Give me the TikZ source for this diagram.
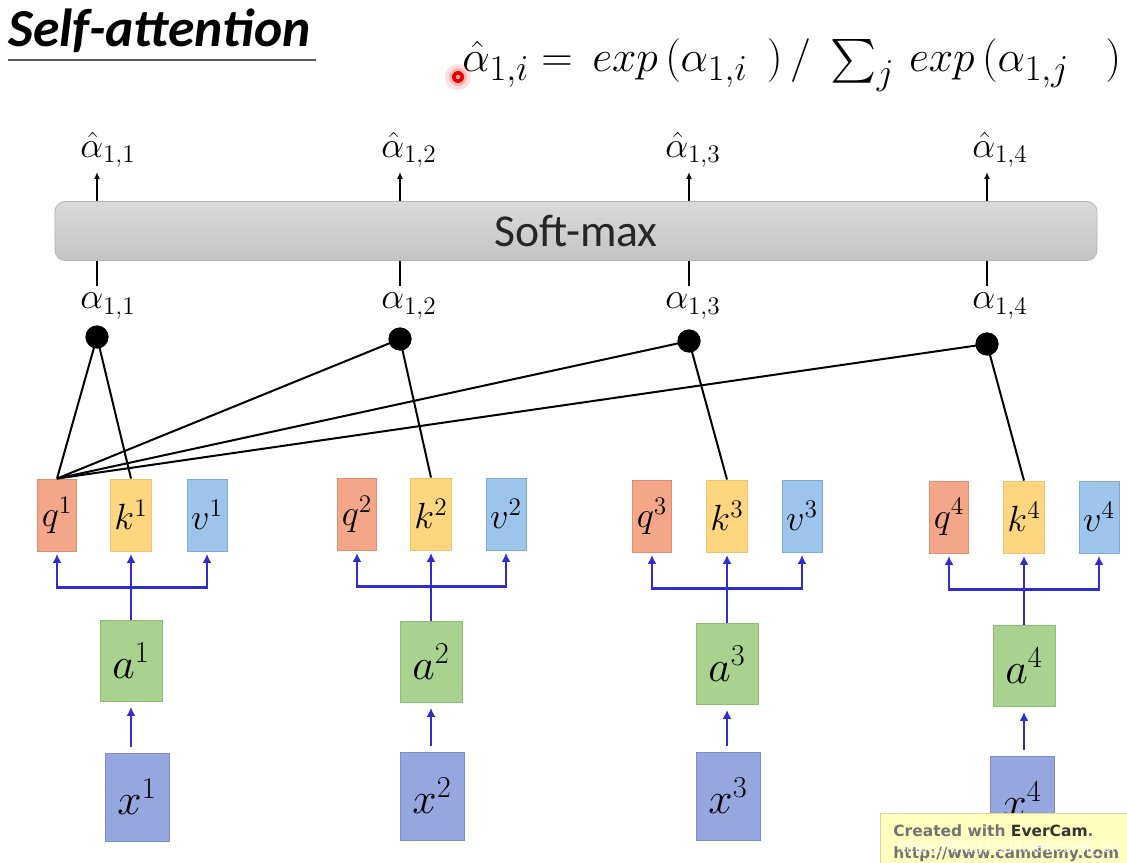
\documentclass[tikz,border=0pt]{standalone}
\usepackage[no-math]{fontspec}
\usepackage{amsmath}
\newfontfamily\calibri{Carlito}
\newfontfamily\wmfont{DejaVu Sans}
\newfontfamily\arialfont{Liberation Sans}
\usetikzlibrary{arrows.meta}
\definecolor{qfill}{RGB}{243,166,136}
\definecolor{qdraw}{RGB}{226,142,112}
\definecolor{kfill}{RGB}{255,214,128}
\definecolor{kdraw}{RGB}{240,196,104}
\definecolor{vfill}{RGB}{157,196,234}
\definecolor{vdraw}{RGB}{130,170,214}
\definecolor{afill}{RGB}{169,210,143}
\definecolor{adraw}{RGB}{142,190,116}
\definecolor{xfill}{RGB}{150,166,223}
\definecolor{xdraw}{RGB}{126,142,206}
\definecolor{blueline}{RGB}{46,46,208}
\definecolor{smtop}{RGB}{218,218,218}
\definecolor{smbot}{RGB}{196,196,196}
\definecolor{smdraw}{RGB}{180,180,180}
\definecolor{wmyellow}{RGB}{255,255,192}
\definecolor{wmdraw}{RGB}{214,214,150}
\tikzset{
  box/.style={draw, line width=0.5pt, inner sep=0pt, font=\fontsize{22}{26}\selectfont},
  qbox/.style={box, fill=qfill, draw=qdraw, minimum width=7.8mm, minimum height=14.4mm},
  kbox/.style={box, fill=kfill, draw=kdraw, minimum width=8.2mm, minimum height=14.4mm},
  vbox/.style={box, fill=vfill, draw=vdraw, minimum width=8mm, minimum height=14.4mm},
  abox/.style={box, fill=afill, draw=adraw, minimum width=12.4mm, minimum height=16.2mm, font=\fontsize{24}{28}\selectfont},
  xbox/.style={box, fill=xfill, draw=xdraw, minimum width=12.8mm, minimum height=17.6mm, font=\fontsize{24}{28}\selectfont},
  lab/.style={inner sep=0pt, anchor=west, font=\fontsize{22}{24}\selectfont},
  dotnode/.style={circle, fill=black, minimum size=4.6mm, inner sep=0pt},
  att/.style={line width=0.4mm, black},
  bl/.style={line width=0.55mm, blueline},
  bla/.style={bl, -{Latex[length=1.8mm,width=1.8mm]}, shorten >=0.5mm},
  upar/.style={line width=0.35mm, black, -{Latex[length=1.4mm,width=1.2mm]}},
  smline/.style={line width=0.35mm, black},
}
\begin{document}
\begin{tikzpicture}[x=0.2mm,y=-0.2mm]
\useasboundingbox (0,0) rectangle (1127,863);
\fill[white] (0,0) rectangle (1127,863);

% title
\node[anchor=base west, inner sep=0pt, font=\fontsize{30.5}{34}\calibri\bfseries\itshape] (title) at (8,47) {Self-attention};
\draw[line width=0.45mm, black!65] ([yshift=-2.6mm]title.base west) -- ([yshift=-2.6mm,xshift=1mm]title.base east);

% formula
\node[anchor=base west, inner sep=0pt, font=\fontsize{31}{35}\selectfont] (formula) at (462,72)
  {$\hat{\alpha}_{1,i} \mathrel{=} \,exp\,(\alpha_{1,i}\;\,)\,/\;\sum\nolimits_j \,exp\,(\alpha_{1,j}\;\;\;)$};

% red pointer dot
\fill[red, opacity=0.12] (458,77) circle (2.6mm);
\fill[red, opacity=0.2] (458,77) circle (1.8mm);
\fill[red!90!black] (458,77) circle (1.2mm);
\fill[red!35] (458,77) circle (0.45mm);

% soft-max
\node[draw=smdraw, line width=0.4pt, top color=smtop, bottom color=smbot, rounded corners=2mm,
      minimum width=208.4mm, minimum height=11.8mm, inner sep=0pt,
      font=\fontsize{26}{30}\calibri, text=black!85] (sm) at (576,231) {Soft-max};

% columns
\foreach \i/\cx/\dy/\lx in {1/97/337/80, 2/400/339/381, 3/689/341/665, 4/987/344/972}{
  \coordinate (top\i) at (\cx,172);
  \coordinate (bot\i) at (\cx,286);
  \node[lab] (ah\i) at (\lx,150) {$\hat{\alpha}_{1,\i}$};
  \node[lab] (al\i) at (\lx,306) {$\alpha_{1,\i}$};
  \draw[upar] (sm.north -| top\i) -- (top\i);
  \draw[smline] (sm.south -| bot\i) -- (bot\i);
  \node[dotnode] (d\i) at (\cx,\dy) {};
}

% q k v boxes
\node[qbox] (q1) at (57,515) {$q^1$};
\node[kbox] (k1) at (131,515) {$k^1$};
\node[vbox] (v1) at (207,515) {$v^1$};
\node[qbox] (q2) at (357,514) {$q^2$};
\node[kbox] (k2) at (431,514) {$k^2$};
\node[vbox] (v2) at (506,514) {$v^2$};
\node[qbox] (q3) at (652,516) {$q^3$};
\node[kbox] (k3) at (727,516) {$k^3$};
\node[vbox] (v3) at (802,516) {$v^3$};
\node[qbox] (q4) at (949,517) {$q^4$};
\node[kbox] (k4) at (1024,517) {$k^4$};
\node[vbox] (v4) at (1099,517) {$v^4$};

% a boxes
\node[abox] (a1) at (131,661) {$a^1$};
\node[abox] (a2) at (431,662) {$a^2$};
\node[abox] (a3) at (727,664) {$a^3$};
\node[abox] (a4) at (1024,666) {$a^4$};

% x boxes
\node[xbox] (x1) at (137,797) {$x^1$};
\node[xbox] (x2) at (432,796) {$x^2$};
\node[xbox] (x3) at (728,796) {$x^3$};
\node[xbox] (x4) at (1022,800) {$x^4$};

% attention lines
\draw[att] (q1.north) -- (d1.center);
\draw[att] (q1.north) -- (d2.center);
\draw[att] (q1.north) -- (d3.center);
\draw[att] (q1.north) -- (d4.center);
\draw[att] (k1.north) -- (d1.center);
\draw[att] (k2.north) -- (d2.center);
\draw[att] (k3.north) -- (d3.center);
\draw[att] (k4.north) -- (d4.center);
\foreach \i in {1,2,3,4}{ \node[dotnode] at (d\i) {}; }

% blue connectors
\foreach \i in {1,2,3,4}{
  \coordinate (j\i) at ([yshift=-7.2mm]k\i.south);
  \draw[bl] (a\i.north) -- (j\i);
  \draw[bla] (j\i) -- (k\i.south);
  \draw[bla] (j\i) -| (q\i.south);
  \draw[bla] (j\i) -| (v\i.south);
  \draw[bla, shorten <=1.2mm, shorten >=1mm] (a\i.south |- x\i.north) -- (a\i.south);
}

% watermark
\fill[wmyellow] (880,813) rectangle (1140,870);
\draw[wmdraw, line width=0.4pt] (1140,813) -- (880,813) -- (880,870);
\node[anchor=base west, inner sep=0pt, font=\wmfont\bfseries\fontsize{8.8}{10}\selectfont, text=black!55] (wm1) at (893,836)
  {Created with \textcolor{black!80}{EverCam}.};
\node[anchor=base west, inner sep=0pt, font=\wmfont\bfseries\fontsize{8.8}{10}\selectfont, text=black!55] (wm2) at (893,858)
  {http://www.camdemy.com};
\node[anchor=base west, inner sep=0pt, font=\arialfont\fontsize{9.5}{11}\selectfont, text=white, opacity=0.85] (wm3) at (900,852)
  {https://blog.csdn.net/comli\_cn};
\end{tikzpicture}
\end{document}
